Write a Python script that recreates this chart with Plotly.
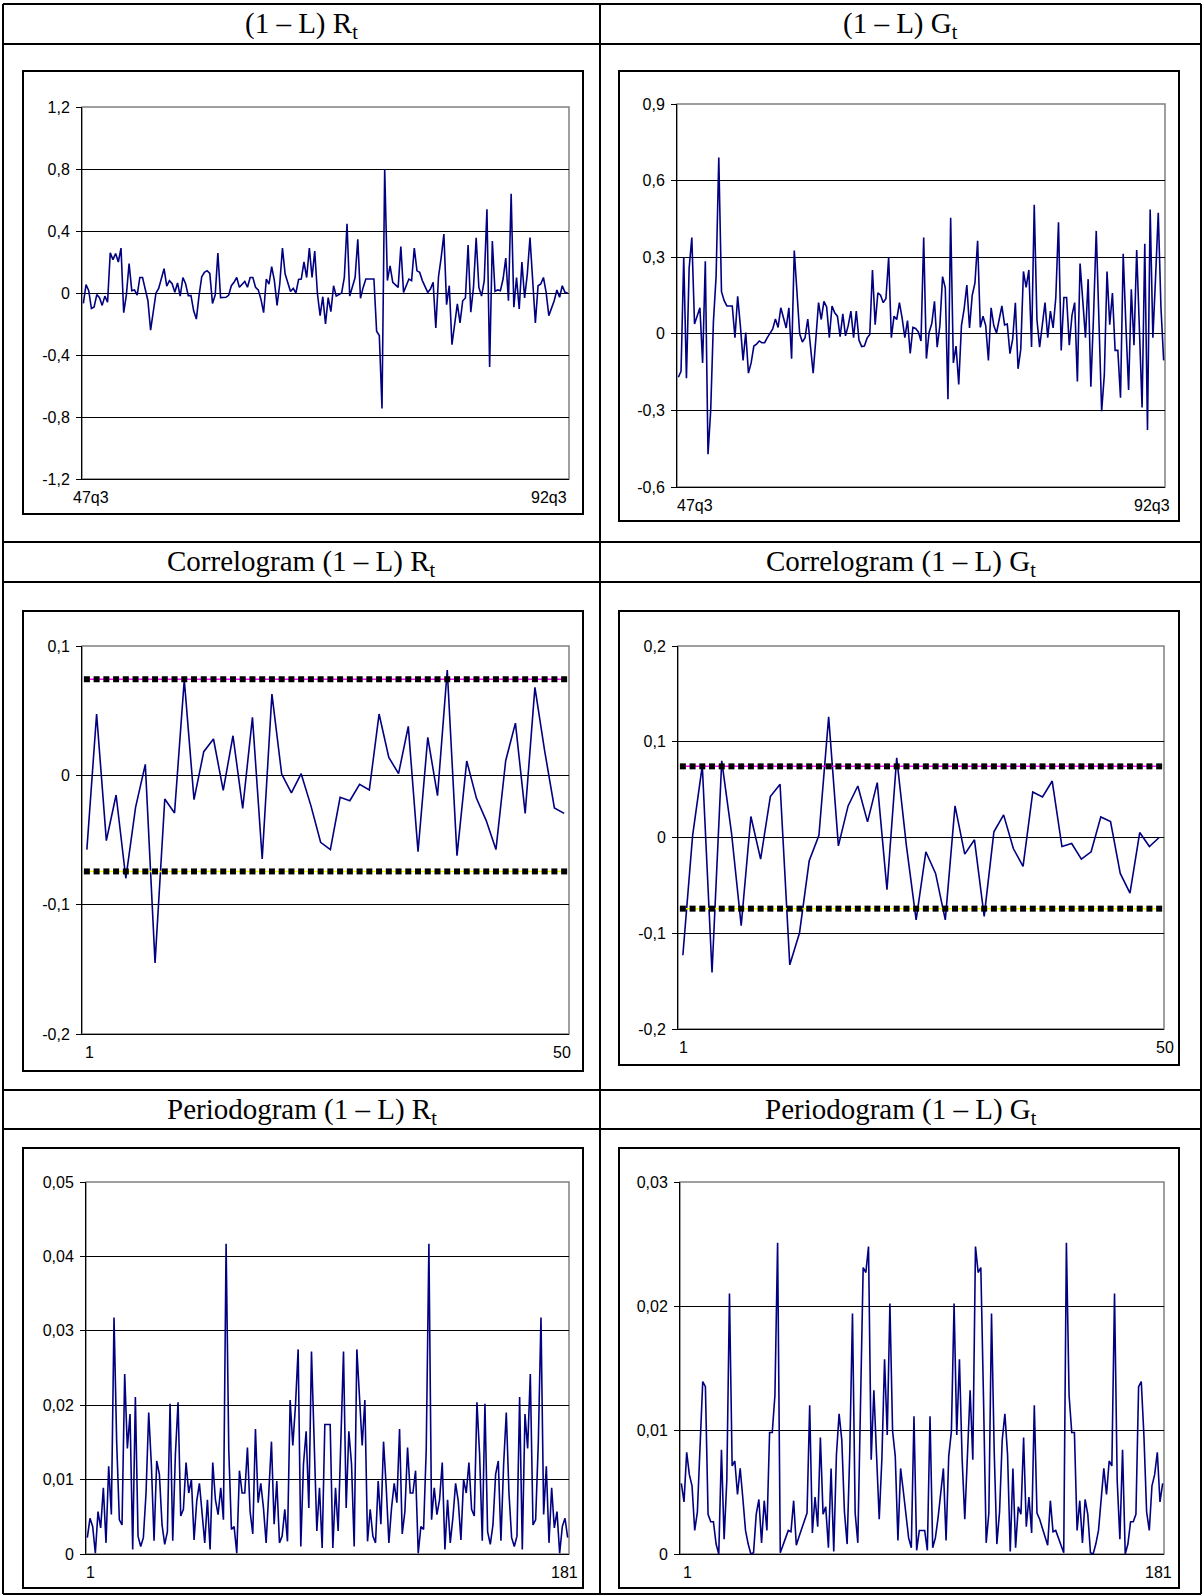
import plotly.graph_objects as go

# ---------------- data ----------------
titles = [
    "(1 – L) R<sub>t</sub>", "(1 – L) G<sub>t</sub>",
    "Correlogram (1 – L) R<sub>t</sub>", "Correlogram (1 – L) G<sub>t</sub>",
    "Periodogram (1 – L) R<sub>t</sub>", "Periodogram (1 – L) G<sub>t</sub>",
]

time_labels = ["47q3", "92q3"]
lag_labels = ["1", "50"]
freq_labels = ["1", "181"]

dR = [
    -0.067, 0.054, 0.015, -0.10, -0.09, -0.01, -0.03, -0.08, -0.02, -0.06,
    0.26, 0.215, 0.255, 0.20, 0.29, -0.127, -0.01, 0.19, 0.015, 0.02,
    -0.013, 0.10, 0.10, 0.015, -0.05, -0.24, -0.115, 0.0, 0.03, 0.10,
    0.157, 0.045, 0.08, 0.06, 0.005, 0.065, -0.02, 0.10, 0.06, -0.017,
    -0.017, -0.115, -0.168, -0.017, 0.105, 0.133, 0.144, 0.127, -0.067, -0.013,
    0.258, -0.03, -0.03, -0.028, -0.015, 0.047, 0.069, 0.10, 0.037, 0.058,
    0.075, 0.037, 0.10, 0.10, 0.037, 0.02, -0.04, -0.127, 0.09, 0.058,
    0.17, 0.08, -0.08, 0.058, 0.29, 0.122, 0.058, 0.01, 0.03, 0.0,
    0.088, 0.09, 0.20, 0.10, 0.29, 0.10, 0.27, -0.005, -0.146, -0.024,
    -0.20, -0.03, -0.12, 0.047, -0.02, -0.01, 0.0, 0.10, 0.447, -0.02,
    0.036, 0.10, 0.347, -0.034, 0.036, 0.09, 0.09, 0.09, 0.09, -0.246,
    -0.274, -0.745, 0.80, 0.08, 0.175, 0.069, 0.05, 0.036, 0.30, 0.004,
    0.047, 0.09, 0.08, 0.29, 0.143, 0.133, 0.08, 0.036, 0.004, 0.026,
    0.069, -0.225, 0.105, 0.23, 0.38, -0.075, 0.047, -0.334, -0.20, -0.07,
    -0.193, -0.05, -0.032, 0.31, -0.124, 0.036, 0.357, 0.036, -0.02, 0.08,
    0.54, -0.477, 0.336, 0.01, 0.02, 0.015, 0.09, 0.225, -0.05, 0.64,
    -0.092, 0.10, -0.103, 0.20, -0.032, 0.122, 0.357, 0.096, -0.193, 0.047,
    0.058, 0.10, 0.004, -0.146, -0.103, -0.05, 0.02, -0.028, 0.047, 0.004, 0.0,
]

dG = [
    -0.17, -0.147, 0.30, -0.174, 0.257, 0.377, 0.038, 0.072, 0.102, -0.114,
    0.284, -0.472, -0.30, 0.045, 0.224, 0.69, 0.165, 0.13, 0.109, 0.109,
    0.109, -0.015, 0.147, 0.032, -0.104, 0.005, -0.154, -0.114, -0.048, -0.041,
    -0.028, -0.035, -0.035, -0.015, 0.0, 0.019, 0.058, 0.025, 0.102, 0.065,
    0.023, 0.102, -0.098, 0.326, 0.15, 0.0, -0.032, -0.015, 0.058, -0.061,
    -0.154, -0.02, 0.122, 0.056, 0.127, 0.105, -0.015, 0.109, 0.082, 0.069,
    -0.011, 0.078, -0.008, 0.032, 0.089, -0.015, 0.089, -0.025, -0.05, -0.048,
    -0.017, -0.003, 0.25, 0.036, 0.16, 0.151, 0.122, 0.138, 0.30, -0.015,
    0.069, 0.056, 0.122, 0.061, -0.015, 0.052, -0.077, 0.025, 0.021, 0.008,
    -0.028, 0.377, -0.097, 0.005, 0.04, 0.127, -0.052, 0.032, 0.224, 0.18,
    -0.256, 0.454, -0.114, -0.048, -0.198, 0.032, 0.098, 0.191, 0.023, 0.151,
    0.198, 0.364, 0.025, 0.069, 0.032, -0.104, 0.102, 0.032, 0.003, 0.056,
    0.109, 0.035, 0.038, -0.078, -0.021, 0.121, -0.137, -0.061, 0.244, 0.182,
    0.25, -0.052, 0.505, 0.056, -0.052, 0.035, 0.122, -0.015, 0.089, 0.023,
    0.142, 0.437, -0.065, 0.142, 0.142, -0.045, 0.072, 0.122, -0.187, 0.275,
    0.13, -0.015, 0.214, -0.207, 0.072, 0.403, 0.05, -0.303, -0.16, 0.244,
    0.036, 0.16, -0.065, -0.065, -0.25, 0.313, 0.032, -0.22, 0.174, -0.045,
    0.328, 0.02, -0.289, 0.353, -0.377, 0.487, -0.015, 0.22, 0.474, 0.102, -0.104,
]

acf_R = [
    -0.0574, 0.0474, -0.0505, -0.0152, -0.0796, -0.0247, 0.0085, -0.145, -0.0183, -0.0291,
    0.0739, -0.0188, 0.0183, 0.0281, -0.0116, 0.0306, -0.0255, 0.0448, -0.0646, 0.0628,
    0.001, -0.0136, 0.0013, -0.0234, -0.0518, -0.0574, -0.017, -0.0196, -0.007, -0.0113,
    0.0474, 0.0139, 0.0013, 0.0379, -0.059, 0.0294, -0.0157, 0.0814, -0.0621, 0.0111,
    -0.0178, -0.035, -0.0574, 0.0113, 0.0404, -0.0294, 0.068, 0.019, -0.0252, -0.0294,
]

acf_G = [
    -0.123, 0.0017, 0.075, -0.141, 0.080, 0.0052, -0.092, 0.0219, -0.0226, 0.0427,
    0.0556, -0.133, -0.0997, -0.0243, 0.0024, 0.126, -0.0087, 0.033, 0.0538, 0.0163,
    0.0573, -0.0545, 0.0833, -0.0087, -0.0861, -0.0149, -0.0375, -0.0861, 0.033, -0.0174,
    -0.0024, -0.0823, 0.0059, 0.0236, -0.0115, -0.0302, 0.0476, 0.0424, 0.059, -0.0094,
    -0.0063, -0.0226, -0.0149, 0.0215, 0.0167, -0.0375, -0.058, 0.0052, -0.0094, 0.0,
]

band = 0.0743  # +/- significance band of the correlograms

per_R = [
    0.0022, 0.0048, 0.0037, 0.0001, 0.0057, 0.0035, 0.0089, 0.0015, 0.0118, 0.0053,
    0.0318, 0.0150, 0.0046, 0.0039, 0.0242, 0.0142, 0.0188, 0.0006, 0.0211, 0.0024,
    0.0010, 0.0022, 0.0082, 0.0190, 0.0120, 0.0018, 0.0125, 0.0107, 0.0039, 0.0013,
    0.0030, 0.0202, 0.0018, 0.0134, 0.0204, 0.0051, 0.0060, 0.0123, 0.0082, 0.0100,
    0.0019, 0.0071, 0.0095, 0.0049, 0.0015, 0.0073, 0.0006, 0.0123, 0.0073, 0.0053,
    0.0089, 0.0046, 0.0417, 0.0140, 0.0033, 0.0037, 0.0001, 0.0112, 0.0082, 0.0082,
    0.0143, 0.0057, 0.0027, 0.0168, 0.0069, 0.0095, 0.0062, 0.0015, 0.0090, 0.0151,
    0.0040, 0.0098, 0.0015, 0.0024, 0.0060, 0.0017, 0.0207, 0.0146, 0.0200, 0.0275,
    0.0010, 0.0121, 0.0165, 0.0062, 0.0272, 0.0158, 0.0031, 0.0089, 0.0008, 0.0174,
    0.0174,
    0.0174, 0.0008, 0.0089, 0.0031, 0.0158, 0.0272, 0.0062, 0.0165, 0.0121, 0.0010,
    0.0275, 0.0200, 0.0146, 0.0207, 0.0017, 0.0060, 0.0024, 0.0015, 0.0098, 0.0040,
    0.0151, 0.0090, 0.0015, 0.0062, 0.0095, 0.0069, 0.0168, 0.0027, 0.0057, 0.0143,
    0.0082, 0.0082, 0.0112, 0.0001, 0.0037, 0.0033, 0.0140, 0.0417, 0.0046, 0.0089,
    0.0053, 0.0073, 0.0123, 0.0006, 0.0073, 0.0015, 0.0049, 0.0095, 0.0071, 0.0019,
    0.0100, 0.0082, 0.0123, 0.0060, 0.0051, 0.0204, 0.0134, 0.0018, 0.0202, 0.0030,
    0.0013, 0.0039, 0.0107, 0.0125, 0.0018, 0.0120, 0.0190, 0.0082, 0.0022, 0.0010,
    0.0024, 0.0211, 0.0006, 0.0188, 0.0142, 0.0242, 0.0039, 0.0046, 0.0150, 0.0318,
    0.0053, 0.0118, 0.0015, 0.0089, 0.0035, 0.0057, 0.0001, 0.0037, 0.0048, 0.0022,
]

per_G = [
    0.0057, 0.0042, 0.0082, 0.0064, 0.0055, 0.0019, 0.0034, 0.0095, 0.0139, 0.0135,
    0.0032, 0.0026, 0.0026, 0.0008, 0.0000, 0.0084, 0.0012, 0.0059, 0.0210, 0.0071,
    0.0075, 0.0048, 0.0069, 0.0045, 0.0019, 0.0008, 0.0000, 0.0001, 0.0032, 0.0044,
    0.0009, 0.0043, 0.0019, 0.0098, 0.0098, 0.0128, 0.0251, 0.0001, 0.0008, 0.0013,
    0.0019, 0.0018, 0.0043, 0.0007, 0.0014, 0.0021, 0.0028, 0.0033, 0.0120, 0.0017,
    0.0046, 0.0022, 0.0094, 0.0032, 0.0038, 0.0005, 0.0069, 0.0002, 0.0080, 0.0113,
    0.0092, 0.0034, 0.0008, 0.0083, 0.0194, 0.0033, 0.0009, 0.0126, 0.0231, 0.0227,
    0.0248, 0.0076, 0.0132, 0.0080, 0.0028, 0.0077, 0.0157, 0.0096, 0.0202, 0.0099,
    0.0079, 0.0011, 0.0069, 0.0051, 0.0029, 0.0013, 0.0005, 0.0111, 0.0003, 0.0019,
    0.0019,
    0.0019, 0.0003, 0.0111, 0.0005, 0.0013, 0.0029, 0.0051, 0.0069, 0.0011, 0.0079,
    0.0099, 0.0202, 0.0096, 0.0157, 0.0077, 0.0028, 0.0080, 0.0132, 0.0076, 0.0248,
    0.0227, 0.0231, 0.0126, 0.0009, 0.0033, 0.0194, 0.0083, 0.0008, 0.0034, 0.0092,
    0.0113, 0.0080, 0.0002, 0.0069, 0.0005, 0.0038, 0.0032, 0.0094, 0.0022, 0.0046,
    0.0017, 0.0120, 0.0033, 0.0028, 0.0021, 0.0014, 0.0007, 0.0043, 0.0018, 0.0019,
    0.0013, 0.0008, 0.0001, 0.0251, 0.0128, 0.0098, 0.0098, 0.0019, 0.0043, 0.0009,
    0.0044, 0.0032, 0.0001, 0.0000, 0.0008, 0.0019, 0.0045, 0.0069, 0.0048, 0.0075,
    0.0071, 0.0210, 0.0059, 0.0012, 0.0084, 0.0000, 0.0008, 0.0026, 0.0026, 0.0032,
    0.0135, 0.0139, 0.0095, 0.0034, 0.0019, 0.0055, 0.0064, 0.0082, 0.0042, 0.0057,
]

yt_dR = [-1.2, -0.8, -0.4, 0, 0.4, 0.8, 1.2]
yl_dR = ["-1,2", "-0,8", "-0,4", "0", "0,4", "0,8", "1,2"]
yt_dG = [-0.6, -0.3, 0, 0.3, 0.6, 0.9]
yl_dG = ["-0,6", "-0,3", "0", "0,3", "0,6", "0,9"]
yt_aR = [-0.2, -0.1, 0, 0.1]
yl_aR = ["-0,2", "-0,1", "0", "0,1"]
yt_aG = [-0.2, -0.1, 0, 0.1, 0.2]
yl_aG = ["-0,2", "-0,1", "0", "0,1", "0,2"]
yt_pR = [0, 0.01, 0.02, 0.03, 0.04, 0.05]
yl_pR = ["0", "0,01", "0,02", "0,03", "0,04", "0,05"]
yt_pG = [0, 0.01, 0.02, 0.03]
yl_pG = ["0", "0,01", "0,02", "0,03"]

# ---------------- layout (pixels) ----------------
W, H = 1204, 1596
def fx(x): return x / W
def fy(y): return 1 - y / H

NAVY = "#000080"
SANS = "Liberation Sans, Arial, sans-serif"
SERIF = "Liberation Serif, Times New Roman, serif"

panels = [
    dict(series=dR, ticks=(yt_dR, yl_dR), xl=time_labels, plot=(82, 569, 107, 479),
         box=(23, 583, 71, 514), lab=[("left", -11), ("right", 0)]),
    dict(series=dG, ticks=(yt_dG, yl_dG), xl=time_labels, plot=(677, 1165, 104, 487),
         box=(619, 1179, 71, 521), lab=[("left", -2), ("right", 7)]),
    dict(series=acf_R, ticks=(yt_aR, yl_aR), xl=lag_labels, plot=(82, 569, 646, 1034),
         box=(23, 583, 611, 1071), lab=[("center", 7), ("center", -7)], band=True),
    dict(series=acf_G, ticks=(yt_aG, yl_aG), xl=lag_labels, plot=(678, 1164, 646, 1029),
         box=(619, 1179, 611, 1065), lab=[("center", 5), ("center", 1)], band=True),
    dict(series=per_R, ticks=(yt_pR, yl_pR), xl=freq_labels, plot=(86, 569, 1182, 1554),
         box=(23, 583, 1148, 1588), lab=[("center", 4), ("center", -5)]),
    dict(series=per_G, ticks=(yt_pG, yl_pG), xl=freq_labels, plot=(680, 1164, 1182, 1554),
         box=(619, 1179, 1148, 1588), lab=[("center", 7), ("center", -6)]),
]

fig = go.Figure()
shapes = []
annotations = []
layout_axes = {}

for k, p in enumerate(panels):
    n = k + 1
    xa = "x" if n == 1 else f"x{n}"
    ya = "y" if n == 1 else f"y{n}"
    series = p["series"]
    N = len(series)
    xs = list(range(1, N + 1))
    x0, x1, yt, yb = p["plot"]
    tv, tl = p["ticks"]

    fig.add_trace(go.Scatter(x=xs, y=series, mode="lines", xaxis=xa, yaxis=ya,
                             line=dict(color=NAVY, width=1.6), showlegend=False,
                             hoverinfo="skip"))
    if p.get("band"):
        for val, col in ((band, "#FF00FF"), (-band, "#FFFF00")):
            fig.add_trace(go.Scatter(x=xs, y=[val] * N, mode="lines+markers",
                                     xaxis=xa, yaxis=ya, showlegend=False,
                                     hoverinfo="skip",
                                     line=dict(color=col, width=1.5),
                                     marker=dict(symbol="square", size=6, color="black",
                                                 line=dict(width=0))))

    layout_axes["xaxis" if n == 1 else f"xaxis{n}"] = dict(
        domain=[fx(x0), fx(x1)], anchor=ya, range=[0.5, N + 0.5],
        showgrid=False, zeroline=False, showticklabels=False, ticks="",
        showline=True, linecolor="black", linewidth=1, fixedrange=True,
        automargin=False)
    layout_axes["yaxis" if n == 1 else f"yaxis{n}"] = dict(
        domain=[fy(yb), fy(yt)], anchor=xa, range=[tv[0], tv[-1]],
        tickmode="array", tickvals=tv, ticktext=tl,
        showgrid=True, gridcolor="black", gridwidth=1, zeroline=False,
        showline=True, linecolor="black", linewidth=1,
        ticks="outside", ticklen=5, tickcolor="black", tickwidth=1,
        ticklabelstandoff=3, automargin=False,
        tickfont=dict(family=SANS, size=16, color="black"), fixedrange=True)

    shapes.append(dict(type="rect", xref="paper", yref="paper",
                       x0=fx(x0), x1=fx(x1), y0=fy(yb), y1=fy(yt),
                       line=dict(color="#808080", width=1.5), layer="below"))
    bx0, bx1, byt, byb = p["box"]
    shapes.append(dict(type="rect", xref="paper", yref="paper",
                       x0=fx(bx0), x1=fx(bx1), y0=fy(byb), y1=fy(byt),
                       line=dict(color="black", width=2)))
    for (anchor, shift), txt, xpos in zip(p["lab"], p["xl"], (0, 1)):
        annotations.append(dict(text=txt, xref=f"{xa} domain", yref=f"{ya} domain",
                                x=xpos, y=0, xanchor=anchor, yanchor="middle",
                                xshift=shift, yshift=-18, showarrow=False,
                                font=dict(family=SANS, size=16, color="black")))

# table grid
col_x = [3, 600, 1201]
row_y = [4, 44, 542, 582, 1090, 1129, 1594]
for x in col_x:
    shapes.append(dict(type="line", xref="paper", yref="paper",
                       x0=fx(x), x1=fx(x), y0=fy(row_y[0]), y1=fy(row_y[-1]),
                       line=dict(color="black", width=2)))
for y in row_y:
    shapes.append(dict(type="line", xref="paper", yref="paper",
                       x0=fx(col_x[0]), x1=fx(col_x[-1]), y0=fy(y), y1=fy(y),
                       line=dict(color="black", width=2)))

title_rows = [(4, 44), (542, 582), (1090, 1129)]
for k, t in enumerate(titles):
    r = k // 2
    c = k % 2
    cx = (col_x[c] + col_x[c + 1]) / 2
    cy = (title_rows[r][0] + title_rows[r][1]) / 2 + 1
    annotations.append(dict(text=t, xref="paper", yref="paper", x=fx(cx), y=fy(cy),
                            xanchor="center", yanchor="middle", showarrow=False,
                            font=dict(family=SERIF, size=29, color="black")))

fig.update_layout(
    width=W, height=H, autosize=False,
    margin=dict(l=0, r=0, t=0, b=0, pad=0),
    paper_bgcolor="white", plot_bgcolor="white",
    shapes=shapes, annotations=annotations, showlegend=False,
    **layout_axes,
)

fig.write_html(
    "out.html",
    config={"displayModeBar": False, "responsive": False},
    post_script=(
        "document.documentElement.style.margin='0';"
        "document.documentElement.style.padding='0';"
        "document.body.style.margin='0';"
        "document.body.style.padding='0';"
        "document.documentElement.style.overflow='hidden';"
    ),
)
